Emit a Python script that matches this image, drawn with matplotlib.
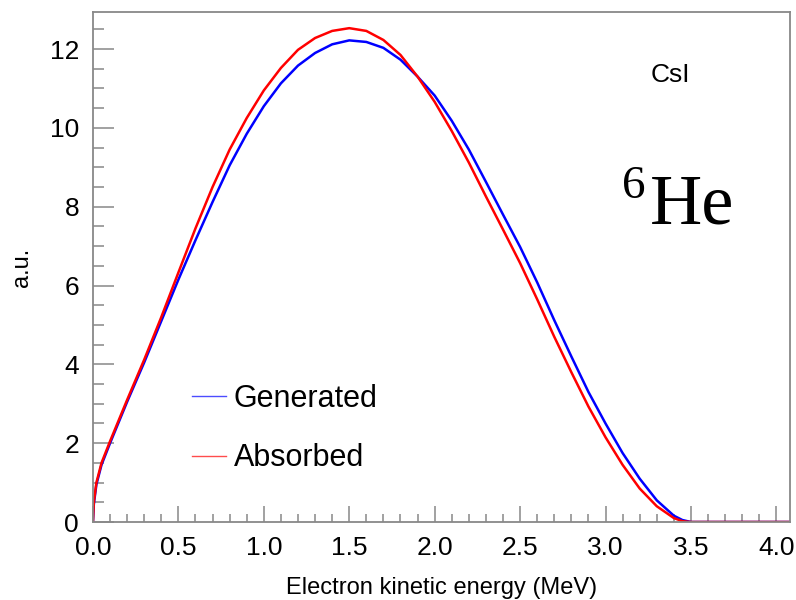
import matplotlib
matplotlib.use('Agg')
import matplotlib.pyplot as plt
from matplotlib.ticker import MultipleLocator

plt.rcParams['font.family'] = ['Liberation Sans', 'DejaVu Sans']

# Data (MeV, a.u.)
energy = [0.0, 0.005, 0.02, 0.05, 0.1, 0.2, 0.3, 0.4, 0.5, 0.6, 0.7, 0.8, 0.9,
          1.0, 1.1, 1.2, 1.3, 1.4, 1.5, 1.6, 1.7, 1.8, 1.9, 2.0, 2.1, 2.2,
          2.3, 2.4, 2.5, 2.6, 2.7, 2.8, 2.9, 3.0, 3.1, 3.2, 3.3, 3.4, 3.45,
          3.5, 4.1]
generated = [0.0, 0.45, 0.95, 1.45, 2.0, 3.05, 4.05, 5.1, 6.15, 7.15, 8.12,
             9.05, 9.85, 10.55, 11.13, 11.58, 11.9, 12.12, 12.22, 12.18,
             12.03, 11.73, 11.3, 10.82, 10.18, 9.45, 8.63, 7.8, 6.98, 6.08,
             5.12, 4.2, 3.3, 2.5, 1.75, 1.1, 0.55, 0.16, 0.05, 0.0, 0.0]
absorbed = [0.0, 0.5, 1.0, 1.5, 2.05, 3.1, 4.12, 5.2, 6.33, 7.45, 8.5, 9.45,
            10.25, 10.95, 11.52, 11.98, 12.28, 12.46, 12.53, 12.46, 12.23,
            11.85, 11.3, 10.66, 9.92, 9.12, 8.26, 7.42, 6.57, 5.65, 4.7,
            3.8, 2.93, 2.15, 1.45, 0.85, 0.4, 0.1, 0.02, 0.0, 0.0]

frame = '#888888'

fig = plt.figure(figsize=(7.96, 6.0), dpi=100)
ax = fig.add_axes([0.1168, 0.13, 0.8757, 0.85])

ax.plot(energy, generated, color='#0000ff', linewidth=1.8, label='Generated')
ax.plot(energy, absorbed, color='#ff0000', linewidth=1.8, label='Absorbed')

ax.set_xlim(0, 4.08)
ax.set_ylim(0, 12.94)

ax.xaxis.set_major_locator(MultipleLocator(0.5))
ax.xaxis.set_minor_locator(MultipleLocator(0.1))
ax.yaxis.set_major_locator(MultipleLocator(2))
ax.yaxis.set_minor_locator(MultipleLocator(0.5))
ax.xaxis.set_major_formatter(plt.FuncFormatter(lambda v, p: f'{v:.1f}'))

for s in ax.spines.values():
    s.set_color(frame)
    s.set_linewidth(1.3)

ax.tick_params(axis='both', which='both', direction='in', color=frame,
               width=1.1, labelsize=19, top=False, right=False)
ax.tick_params(axis='x', which='major', length=11.5, pad=10)
ax.tick_params(axis='x', which='minor', length=5.8)
ax.tick_params(axis='y', which='major', length=15, pad=10)
ax.tick_params(axis='y', which='minor', length=8)

ax.set_xlabel('Electron kinetic energy (MeV)', fontsize=17, labelpad=12)
ax.set_ylabel('a.u.', fontsize=17, labelpad=12)

leg = ax.legend(loc='center left', bbox_to_anchor=(0.142, 0.183), frameon=False,
                fontsize=22, handlelength=1.1, handletextpad=0.27,
                labelspacing=0.96, borderpad=0, borderaxespad=0)
for h in leg.get_lines():
    h.set_linewidth(1.0)
    h.set_alpha(0.7)

ax.text(0.80, 0.876, 'CsI', transform=ax.transAxes, fontsize=19,
        ha='left', va='center')
ax.text(0.799, 0.586, 'He', transform=ax.transAxes, fontsize=52,
        family='Liberation Serif', ha='left', va='baseline')
ax.text(0.759, 0.635, '6', transform=ax.transAxes, fontsize=34,
        family='Liberation Serif', ha='left', va='baseline')

fig.savefig('out.png', dpi=100)
